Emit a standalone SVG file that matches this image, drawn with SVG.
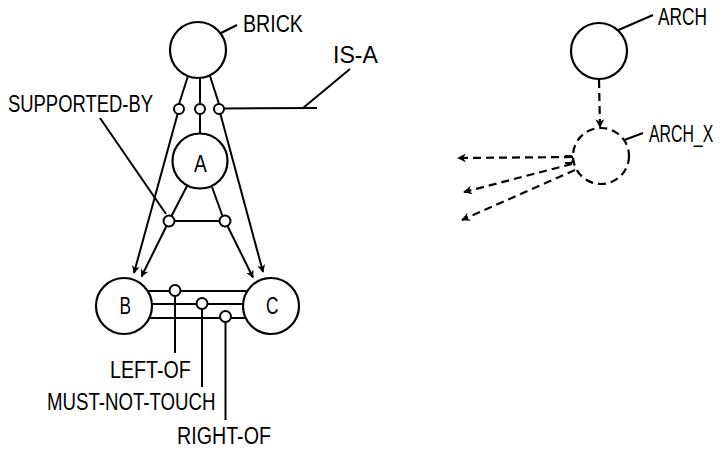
<svg xmlns="http://www.w3.org/2000/svg" width="723" height="450" viewBox="0 0 723 450">
<style>
.n{fill:#fff;stroke:#000;stroke-width:2.2}
.d{fill:#fff;stroke:#000;stroke-width:2.2;stroke-dasharray:8 5}
.r{fill:#fff;stroke:#000;stroke-width:2}
.l{fill:none;stroke:#000;stroke-width:2}
.dl{fill:none;stroke:#000;stroke-width:2.2;stroke-dasharray:8 5}
.t{font-family:"Liberation Sans",Arial,sans-serif;font-size:24px;fill:#000}
</style>
<defs>
<marker id="ah" viewBox="0 0 10 10" refX="9" refY="5" markerWidth="4" markerHeight="4" orient="auto" markerUnits="strokeWidth">
<path d="M0,0 L10,5 L0,10 L3,5 Z" fill="#000"/>
</marker>
</defs>
<rect width="723" height="450" fill="#fff"/>
<g id="connectors">
<line class="l" x1="188" y1="76" x2="179" y2="104"/>
<line class="l" x1="200" y1="78" x2="200" y2="104"/>
<line class="l" x1="210" y1="76" x2="219" y2="104"/>
<line class="l" x1="224" y1="108.5" x2="317" y2="108"/>
<line class="l" x1="303" y1="108" x2="350" y2="69"/>
<line class="l" x1="200" y1="114" x2="200" y2="134"/>
<line class="l" x1="177.6" y1="114" x2="134" y2="273" marker-end="url(#ah)"/>
<line class="l" x1="220.4" y1="114" x2="263" y2="272" marker-end="url(#ah)"/>
<line class="l" x1="100" y1="118" x2="166" y2="214"/>
<line class="l" x1="187" y1="186" x2="171.5" y2="216"/>
<line class="l" x1="212" y1="187" x2="222.5" y2="216"/>
<line class="l" x1="174.5" y1="221" x2="219.5" y2="221"/>
<line class="l" x1="166.5" y1="226" x2="141.5" y2="276.5" marker-end="url(#ah)"/>
<line class="l" x1="227.5" y1="226" x2="253" y2="277.5" marker-end="url(#ah)"/>
<line class="l" x1="148" y1="291" x2="247" y2="291"/>
<line class="l" x1="151" y1="304" x2="243" y2="304"/>
<line class="l" x1="149" y1="318" x2="246" y2="318"/>
<line class="l" x1="175" y1="296" x2="175" y2="353"/>
<line class="l" x1="202" y1="309" x2="202" y2="387"/>
<line class="l" x1="225.5" y1="322" x2="225.5" y2="420"/>
<line class="l" x1="207" y1="40" x2="237" y2="25"/>
<line class="l" x1="607" y1="35" x2="653" y2="15"/>
<line class="l" x1="603" y1="148" x2="643" y2="133"/>
<line class="dl" x1="599" y1="80" x2="600" y2="127" marker-end="url(#ah)"/>
<line class="dl" x1="572" y1="157" x2="458" y2="158" marker-end="url(#ah)"/>
<line class="dl" x1="572" y1="164" x2="464" y2="192" marker-end="url(#ah)"/>
<line class="dl" x1="575" y1="170" x2="462" y2="220" marker-end="url(#ah)"/>
<path class="l" d="M565,156 L570,156 Q573,156 573,159.5 Q573,163 570,163 L565,163"/>
</g>
<g id="brick"><circle class="n" cx="198" cy="50" r="28"/><text class="t" transform="translate(243,32) scale(0.818,1)">BRICK</text></g>
<g id="is-a-label"><text class="t" transform="translate(333,63) scale(0.96,1)">IS-A</text></g>
<g id="supported-by-label"><text class="t" transform="translate(8,112) scale(0.768,1)">SUPPORTED-BY</text></g>
<g id="isa-rels">
<circle class="r" cx="179" cy="109" r="5"/>
<circle class="r" cx="200" cy="109" r="5"/>
<circle class="r" cx="219" cy="109" r="5"/>
</g>
<g id="a"><circle class="n" cx="200" cy="161" r="27.5"/><text class="t" transform="translate(194,172) scale(0.8,1)">A</text></g>
<g id="sup-rels">
<circle class="r" cx="169" cy="221" r="5.5"/>
<circle class="r" cx="225" cy="221" r="5.5"/>
</g>
<g id="b"><circle class="n" cx="124" cy="306" r="28"/><text class="t" transform="translate(119.5,314) scale(0.72,1)">B</text></g>
<g id="c"><circle class="n" cx="271" cy="306" r="28"/><text class="t" transform="translate(266,314) scale(0.72,1)">C</text></g>
<g id="bc-rels">
<circle class="r" cx="175" cy="290.5" r="5.5"/>
<circle class="r" cx="202" cy="303.5" r="5.5"/>
<circle class="r" cx="225.5" cy="316.5" r="5.5"/>
</g>
<g id="bc-labels">
<text class="t" transform="translate(110,378) scale(0.82,1)">LEFT-OF</text>
<text class="t" transform="translate(47,410) scale(0.777,1)">MUST-NOT-TOUCH</text>
<text class="t" transform="translate(177,444) scale(0.82,1)">RIGHT-OF</text>
</g>
<g id="arch"><circle class="n" cx="599" cy="51" r="28"/><text class="t" transform="translate(658,25) scale(0.72,1)">ARCH</text></g>
<g id="arch_x"><circle class="d" cx="601" cy="156" r="28"/><text class="t" transform="translate(649,142) scale(0.66,1)">ARCH_X</text></g>
</svg>
